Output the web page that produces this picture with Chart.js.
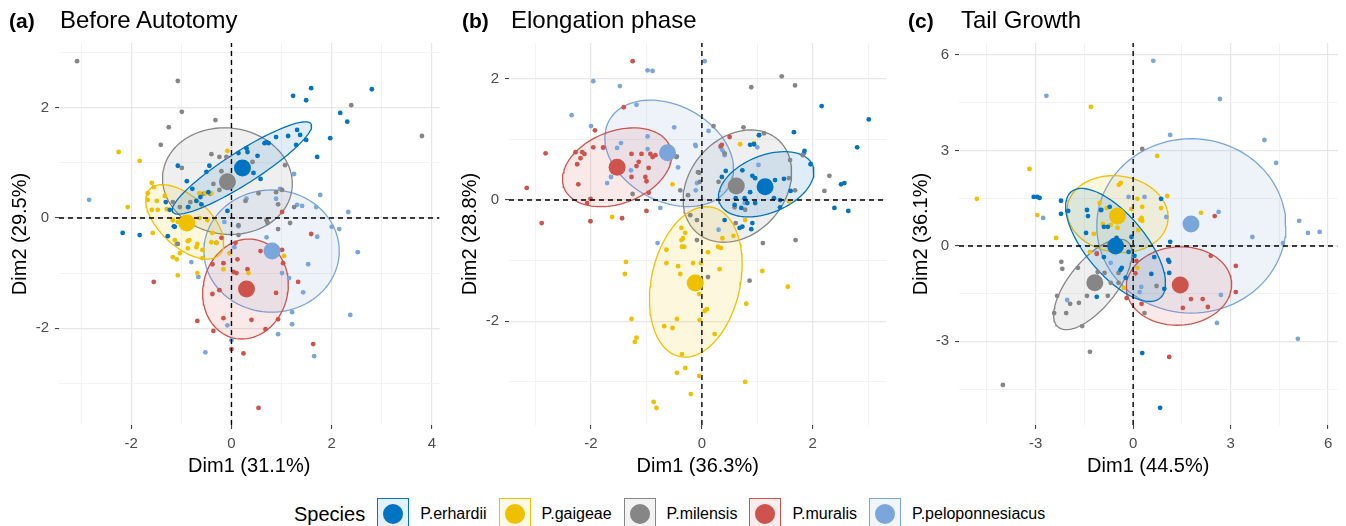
<!DOCTYPE html>
<html>
<head>
<meta charset="utf-8">
<script src="https://cdn.jsdelivr.net/npm/chart.js@4.4.1/dist/chart.umd.min.js"></script>
<style>
  html, body { margin:0; padding:0; background:#ffffff; }
  body { width:1346px; height:526px; position:relative; overflow:hidden; font-family:"Liberation Sans", Arial, sans-serif; }
  canvas { position:absolute; top:0; }
  .tag { position:absolute; top:7px; font-weight:bold; font-size:21px; line-height:28px; color:#000; white-space:nowrap; }
  .ttl { position:absolute; top:6px; font-size:24px; line-height:28px; color:#000; white-space:nowrap; }
  #legend { position:absolute; left:294px; top:498px; height:32px; display:flex; align-items:center; white-space:nowrap; color:#000; }
  #legend .lt { font-size:20px; margin-right:12px; }
  #legend .key { width:30px; height:30px; border:1px solid; position:relative; margin-right:11px; }
  #legend .key span { position:absolute; left:5px; top:5px; width:20px; height:20px; border-radius:50%; }
  #legend .lab { font-size:16px; margin-right:12px; }
</style>
</head>
<body>
<canvas id="cA" width="448" height="480" style="left:0px"></canvas>
<canvas id="cB" width="445" height="480" style="left:450px"></canvas>
<canvas id="cC" width="450" height="480" style="left:896px"></canvas>
<div id="legend"></div>
<script>
// ---------- categories / styling keys ----------
const SPECIES = ['P.erhardii', 'P.gaigeae', 'P.milensis', 'P.muralis', 'P.peloponnesiacus'];
const COLORS  = ['#0073C2', '#EFC000', '#868686', '#CD534C', '#7AA6DC'];

// ---------- panel (a) Before Autotomy ----------
const xLimitsA = [-3.44, 4.15];
const yLimitsA = [-3.76, 3.18];
const xMajorA = [-2, 0, 2, 4];
const xMinorA = [-3, -1, 1, 3];
const yMajorA = [-2, 0, 2];
const yMinorA = [-3, -1, 1, 3];
const erhardiiA = [[1.23,2.22],[1.59,2.36],[1.49,2.14],[2.80,2.34],[2.17,1.91],[2.31,1.75],[1.97,1.45],[1.71,1.11],[1.31,1.60],[1.37,1.51],[1.13,1.49],[0.89,1.47],[1.29,1.33],[1.49,1.42],[0.70,1.38],[0.30,1.27],[0.14,1.18],[0.32,1.20],[0.52,1.13],[-0.44,0.95],[-1.07,0.95],[0.44,0.82],[0.58,0.71],[-0.50,0.84],[-0.89,0.67],[-0.78,0.53],[-0.62,0.38],[-0.60,0.25],[-0.08,0.13],[-1.15,-0.15],[-0.86,0.20],[-2.17,-0.27],[-1.83,-0.31],[-1.27,-0.33],[-1.13,-0.16],[0.66,1.36],[0.74,1.36],[-0.46,0.47],[-1.31,0.29],[-1.23,0.15],[-0.70,0.31]];
const gaigeaeA = [[-2.25,1.20],[-1.83,1.04],[-0.08,1.22],[-1.59,0.64],[-1.55,0.56],[-1.67,0.45],[-1.67,0.33],[-1.49,0.31],[-0.64,0.45],[-0.52,0.45],[-0.40,0.45],[-2.07,0.20],[-1.59,0.15],[-1.29,0.16],[-1.57,-0.27],[-1.13,-0.40],[-0.87,-0.42],[-0.68,-0.47],[-1.17,-0.71],[-1.09,-0.75],[-1.03,-0.64],[-0.58,-0.73],[-0.30,-0.45],[-1.07,-1.04],[-0.68,-1.00],[-0.16,-0.93],[0.34,-1.00],[1.05,-0.69],[-0.04,-0.64],[-1.33,0.40],[-1.47,0.15],[-1.17,-0.04],[-0.84,-0.40],[-0.87,-0.55],[-0.70,-0.53],[-0.58,-0.58],[-0.40,-0.44],[-0.38,-0.27],[-0.48,-0.04],[-0.64,0.00],[-1.07,-0.07]];
const milensisA = [[-3.08,2.85],[-1.07,2.49],[-0.99,1.93],[-0.32,1.78],[-1.25,1.65],[-1.41,1.33],[2.39,2.05],[3.80,1.49],[-0.40,1.16],[-0.24,1.11],[-0.10,1.11],[-0.99,0.91],[-0.20,0.85],[0.42,1.02],[1.07,0.96],[-0.36,0.62],[-0.56,0.44],[-0.42,0.44],[-1.03,0.20],[-0.82,0.29],[0.54,0.45],[0.93,0.25],[1.25,0.20],[0.28,0.31],[0.89,0.47],[1.01,0.51],[0.70,-0.04],[0.93,-0.20],[1.17,-0.09],[0.14,-0.13],[0.72,-0.09],[0.14,-0.31],[-1.07,-0.47],[-1.17,0.29],[-0.87,0.20],[-0.24,0.51]];
const muralisA = [[1.59,-0.29],[0.58,-0.60],[1.01,-0.58],[0.08,-0.45],[0.12,-0.75],[-0.16,-0.82],[-0.38,-0.84],[0.04,-0.98],[0.10,-1.00],[0.32,-0.93],[1.03,-0.82],[1.33,-1.16],[-1.55,-1.16],[-0.38,-1.38],[-0.24,-1.31],[0.89,-1.36],[-0.68,-1.87],[-0.16,-1.82],[0.40,-1.85],[0.93,-1.84],[0.68,-2.02],[-0.36,-2.05],[0.00,-2.38],[0.24,-2.46],[1.63,-2.29],[0.54,-3.45],[1.01,0.11],[-0.30,-0.45],[-0.20,-0.36]];
const peloponnesiacusA = [[-2.84,0.33],[1.25,0.80],[1.77,0.42],[2.33,0.11],[0.97,0.53],[0.30,0.35],[1.31,0.24],[1.41,0.22],[1.69,0.20],[0.89,0.35],[2.00,-0.16],[2.15,-0.20],[1.71,-0.34],[0.70,-0.35],[2.52,-0.62],[1.53,-0.84],[1.01,-1.00],[1.15,-1.09],[1.43,-1.35],[1.21,-1.71],[2.37,-1.76],[1.21,-1.93],[0.93,-2.11],[-0.08,-1.95],[0.00,-2.22],[-0.52,-2.44],[1.65,-2.51],[-0.80,-0.80],[-0.66,-1.07],[0.14,-0.15],[0.06,-0.53],[-0.14,-0.07],[-1.09,-0.47]];
const centroidsA = [[0.22,0.91],[-0.89,-0.09],[-0.08,0.66],[0.30,-1.29],[0.81,-0.60]];
// ellipse: [centre x, centre y, half-axis 1 (x,y), half-axis 2 (x,y)] in data units
const ellipsesA = [[0.21,0.91,1.38,0.80,0.17,-0.25],[-0.93,-0.07,0.70,-0.59,-0.34,-0.33],[-0.08,0.67,1.29,-0.13,-0.11,-0.96],[0.28,-1.29,0.24,0.89,0.82,-0.18],[0.80,-0.60,1.35,0,0,1.11]];

// ---------- panel (b) Elongation phase ----------
const xLimitsB = [-3.48, 3.33];
const yLimitsB = [-3.71, 2.59];
const xMajorB = [-2, 0, 2];
const xMinorB = [-3, -1, 1, 3];
const yMajorB = [-2, 0, 2];
const yMinorB = [-3, -1, 1];
const erhardiiB = [[2.16,1.55],[3.01,1.33],[2.80,0.87],[1.66,1.12],[1.85,0.81],[1.96,0.59],[2.39,-0.13],[2.64,-0.18],[2.51,0.26],[2.57,0.28],[0.87,0.91],[0.94,0.92],[1.03,1.07],[0.43,0.48],[0.36,0.38],[0.73,0.49],[0.91,0.40],[0.96,0.36],[1.32,0.33],[1.48,0.35],[0.64,0.16],[0.87,0.13],[1.14,0.12],[0.61,0.03],[0.77,0.03],[0.96,-0.05],[1.30,0.03],[1.41,0.00],[0.41,-0.33],[0.68,-0.46],[0.91,-0.38],[0.89,-0.48],[0.82,-0.05],[0.59,-0.08],[0.71,-0.13],[1.41,-0.12],[0.73,-0.44],[1.20,0.30],[1.05,0.25],[1.60,0.15]];
const gaigeaeB = [[0.69,0.92],[0.94,0.94],[-0.53,0.26],[-1.62,-0.28],[1.57,-0.02],[0.78,-0.33],[-0.37,-0.46],[-0.30,-0.54],[-0.34,-0.63],[-0.37,-0.66],[-0.32,-0.77],[-0.64,-0.82],[0.29,-0.77],[0.34,-0.79],[0.11,-0.86],[0.37,-0.63],[0.57,-0.59],[-0.36,-0.77],[-1.37,-1.02],[-1.39,-1.22],[-0.64,-1.04],[-0.43,-1.09],[-0.16,-1.04],[-0.02,-1.04],[0.32,-1.14],[-0.39,-1.22],[-0.05,-1.55],[0.05,-1.83],[0.09,-1.80],[1.09,-1.17],[1.55,-1.43],[0.80,-1.71],[-1.27,-1.96],[-0.45,-1.96],[-0.68,-2.08],[-0.53,-2.11],[-0.04,-1.98],[-1.18,-2.27],[-1.21,-2.34],[0.23,-2.21],[-0.36,-2.54],[-0.30,-2.77],[-0.45,-2.85],[-0.05,-2.90],[0.78,-3.00],[-0.20,-3.20],[-0.87,-3.33],[-0.82,-3.43]];
const milensisB = [[1.44,2.04],[1.68,1.89],[0.89,1.86],[0.75,1.20],[0.21,1.22],[-0.05,0.45],[-0.04,0.30],[-0.46,0.71],[-0.39,0.16],[-1.25,0.10],[2.21,0.15],[2.30,0.40],[1.68,0.16],[1.82,0.74],[1.12,1.10],[1.03,1.07],[0.41,0.77],[-0.07,0.46],[0.30,0.30],[-0.25,0.08],[1.84,0.77],[1.59,0.66],[1.57,0.36],[0.59,-0.12],[0.78,-0.16],[1.10,-0.71],[1.69,-0.66],[-0.09,-0.66],[-0.09,-0.33],[-0.21,-0.25],[0.61,-0.38],[0.11,-1.27],[0.86,-1.33]];
const muralisB = [[-1.25,2.29],[-1.41,1.53],[-1.93,1.15],[-1.96,0.87],[-2.82,0.77],[-2.28,0.79],[-2.16,0.79],[-2.12,0.76],[-2.19,0.69],[-2.25,0.59],[-1.78,0.87],[-1.27,0.76],[-1.09,0.76],[-0.93,0.76],[-0.89,0.71],[-0.84,0.74],[-1.14,0.63],[-1.18,0.56],[-0.96,0.53],[-1.02,0.38],[-1.00,0.31],[-1.27,0.38],[-2.23,0.26],[-2.01,0.02],[-2.07,-0.05],[-3.16,0.20],[-0.96,0.12],[-1.00,-0.18],[-1.44,-0.30],[-2.01,-0.35],[-2.89,-0.38],[0.34,0.89],[0.50,1.04],[0.36,0.91]];
const peloponnesiacusB = [[-0.98,2.14],[-0.89,2.13],[0.05,2.29],[-1.96,1.96],[-1.48,1.88],[-1.18,1.57],[-2.35,1.40],[-2.00,1.22],[-0.98,1.05],[-0.50,1.20],[-1.46,0.94],[-1.78,0.86],[-1.53,0.86],[-0.98,0.84],[-0.12,0.91],[-0.11,0.89],[0.12,1.14],[0.37,0.82],[0.41,0.74],[-1.71,0.28],[-1.64,0.38],[-1.28,0.49],[-0.43,0.54],[-0.09,0.28],[-0.11,0.16],[-0.75,-0.13],[-0.45,0.72],[-0.80,-0.71],[0.30,-0.49],[0.34,0.87],[1.00,0.87],[1.02,0.58],[0.77,-0.05]];
const centroidsB = [[1.14,0.22],[-0.12,-1.37],[0.62,0.23],[-1.53,0.54],[-0.62,0.78]];
const ellipsesB = [[1.16,0.26,0.84,0.31,0.19,-0.44],[-0.11,-1.35,0.30,1.23,0.78,-0.165],[0.64,0.23,0.74,0.76,0.64,-0.53],[-1.53,0.54,0.96,0.33,0.22,-0.56],[-0.59,0.77,1.09,-0.53,-0.40,-0.70]];

// ---------- panel (c) Tail Growth ----------
const xLimitsC = [-5.36, 6.29];
const yLimitsC = [-5.63, 6.38];
const xMajorC = [-3, 0, 3, 6];
const xMinorC = [-4.5, -1.5, 1.5, 4.5];
const yMajorC = [-3, 0, 3, 6];
const yMinorC = [-4.5, -1.5, 1.5, 4.5];
const erhardiiC = [[-3.06,1.54],[-2.95,1.54],[-2.88,1.51],[-2.22,1.42],[-2.22,1.01],[-2.00,1.10],[-1.42,1.13],[-1.39,0.94],[-0.99,1.13],[-0.72,1.23],[0.86,1.48],[-1.45,0.41],[1.14,0.13],[1.11,-0.50],[1.11,-0.85],[0.56,-0.88],[0.96,-1.35],[0.28,-3.37],[0.83,-5.09],[-1.12,-1.60],[0.65,-0.35],[-0.90,0.60],[-0.14,-0.19],[1.08,-0.44],[-0.39,-0.75],[-0.90,-0.35],[-0.78,0.60],[-0.51,0.25],[-0.05,0.28],[0.04,-0.31],[-0.35,-0.69],[-0.23,-1.00]];
const gaigeaeC = [[-1.30,4.37],[-3.19,2.42],[-4.81,1.48],[0.74,2.83],[-0.44,1.92],[-0.38,1.98],[0.13,1.48],[1.05,1.57],[0.86,1.19],[0.28,1.23],[2.09,1.04],[-2.95,0.97],[-0.05,1.16],[0.26,0.88],[0.28,0.79],[-0.93,0.69],[-2.37,0.25],[-1.33,-0.19],[-1.03,1.35],[-0.81,1.19],[0.22,0.82],[-1.21,0.38],[-0.69,0.66],[-0.48,0.57],[0.16,0.50],[0.13,-0.69],[-0.29,-1.32]];
const milensisC = [[0.28,3.05],[-2.21,-0.50],[-2.18,-0.72],[-1.70,-0.69],[-1.09,-0.82],[-0.88,-0.85],[-2.34,-1.57],[-1.94,-1.82],[-2.43,-2.11],[-2.06,-2.11],[-1.42,-1.57],[-1.57,-2.52],[-1.33,-3.33],[-4.01,-4.37],[-0.78,-1.57],[0.35,-2.11],[-0.69,-1.16],[-0.45,-1.16],[-1.67,-1.79],[0.72,-1.26],[-0.45,-0.85]];
const muralisC = [[2.51,0.94],[2.39,-0.31],[3.16,-0.63],[3.16,-1.45],[1.78,-1.67],[2.14,-1.67],[2.30,-1.92],[1.53,-1.95],[0.26,-1.82],[1.11,-3.49],[0.10,-0.47],[0.07,-0.86],[-0.20,-1.64],[-1.12,-0.25]];
const peloponnesiacusC = [[0.62,5.82],[-2.67,4.72],[2.67,4.62],[1.14,3.49],[4.04,3.33],[4.40,2.61],[0.35,1.54],[2.63,1.07],[5.11,0.79],[-2.77,0.88],[1.02,0.91],[5.38,0.41],[5.74,0.44],[3.67,0.28],[4.61,0.09],[5.07,-2.92],[2.58,-2.42],[2.70,-1.54],[-2.03,-1.70],[0.20,-1.45],[-0.97,1.13],[-0.14,1.54],[-1.12,-0.22],[-0.69,-0.53],[0.25,-1.29]];
const centroidsC = [[-0.54,0.00],[-0.48,0.94],[-1.18,-1.16],[1.45,-1.23],[1.78,0.69]];
const ellipsesC = [[-0.54,0.03,1.37,-1.67,-0.70,-0.61],[-0.48,1.00,1.55,-0.22,-0.15,-1.19],[-1.24,-1.21,1.07,1.34,0.56,-0.48],[1.41,-1.26,1.62,0.09,0.06,-1.23],[1.79,0.63,2.91,0,0,2.74]];

// ---------- text ----------
const tagsText = ['(a)', '(b)', '(c)'];
const titlesText = ['Before Autotomy', 'Elongation phase', 'Tail Growth'];
const xTitles = ['Dim1 (31.1%)', 'Dim1 (36.3%)', 'Dim1 (44.5%)'];
const yTitles = ['Dim2 (29.5%)', 'Dim2 (28.8%)', 'Dim2 (36.1%)'];
const legendTitle = 'Species';

// ---------- layout (not data) ----------
const FONT = "'Liberation Sans', Arial, sans-serif";
Chart.defaults.font.family = FONT;
const layouts = [
  {canvas:'cA', left:0,   tagX:9,   titleX:60,  yAxisW:59, padR:7, yTitlePad:8},
  {canvas:'cB', left:450, tagX:462, titleX:511, yAxisW:59, padR:4, yTitlePad:8},
  {canvas:'cC', left:896, tagX:908, titleX:961, yAxisW:63, padR:5, yTitlePad:13}
];
const panelData = [
  {xLim:xLimitsA, yLim:yLimitsA, xMaj:xMajorA, xMin:xMinorA, yMaj:yMajorA, yMin:yMinorA,
   pts:[erhardiiA,gaigeaeA,milensisA,muralisA,peloponnesiacusA], cen:centroidsA, ell:ellipsesA},
  {xLim:xLimitsB, yLim:yLimitsB, xMaj:xMajorB, xMin:xMinorB, yMaj:yMajorB, yMin:yMinorB,
   pts:[erhardiiB,gaigeaeB,milensisB,muralisB,peloponnesiacusB], cen:centroidsB, ell:ellipsesB},
  {xLim:xLimitsC, yLim:yLimitsC, xMaj:xMajorC, xMin:xMinorC, yMaj:yMajorC, yMin:yMinorC,
   pts:[erhardiiC,gaigeaeC,milensisC,muralisC,peloponnesiacusC], cen:centroidsC, ell:ellipsesC}
];

function rgba(hex, a) {
  const n = parseInt(hex.slice(1), 16);
  return 'rgba(' + ((n >> 16) & 255) + ',' + ((n >> 8) & 255) + ',' + (n & 255) + ',' + a + ')';
}
function ellipseOutline(e) {
  const out = [];
  const N = 96;
  for (let k = 0; k <= N; k++) {
    const t = 2 * Math.PI * k / N;
    out.push({x: e[0] + e[2] * Math.cos(t) + e[4] * Math.sin(t),
              y: e[1] + e[3] * Math.cos(t) + e[5] * Math.sin(t)});
  }
  return out;
}
const toXY = arr => arr.map(p => ({x: p[0], y: p[1]}));
const isIn = (v, list) => list.some(m => Math.abs(m - v) < 1e-9);

function axis(lim, major, minor, title, isX, L) {
  const all = major.concat(minor).sort((a, b) => a - b);
  const ax = {
    type: 'linear', min: lim[0], max: lim[1],
    afterBuildTicks: s => { s.ticks = all.map(v => ({value: v})); },
    ticks: {
      autoSkip: false, maxRotation: 0, minRotation: 0, padding: 6,
      color: '#4D4D4D', font: {size: 15, family: FONT},
      callback: v => isIn(v, major) ? String(v) : ''
    },
    grid: {
      drawTicks: true, tickLength: 4, tickWidth: 1,
      color: c => (c.tick && isIn(c.tick.value, major)) ? '#E6E6E6' : '#F3F3F3',
      lineWidth: c => (c.tick && isIn(c.tick.value, major)) ? 1.2 : 1,
      tickColor: c => (c.tick && isIn(c.tick.value, major)) ? '#333333' : 'rgba(0,0,0,0)'
    },
    border: {display: false},
    title: {display: true, text: title, color: '#000', font: {size: 20, family: FONT},
            padding: isX ? {top: 0, bottom: 2} : {top: L.yTitlePad, bottom: 0}}
  };
  if (isX) ax.afterFit = s => { s.height = 55; };
  else ax.afterFit = s => { s.width = L.yAxisW; };
  return ax;
}

panelData.forEach((P, pi) => {
  const L = layouts[pi];
  const ds = [];
  // confidence ellipses
  P.ell.forEach((e, i) => ds.push({
    data: ellipseOutline(e), showLine: true, fill: 'shape', tension: 0,
    borderColor: COLORS[i], borderWidth: 1.3, backgroundColor: rgba(COLORS[i], 0.13),
    pointRadius: 0, pointHoverRadius: 0, order: 5
  }));
  // individuals
  P.pts.forEach((arr, i) => ds.push({
    data: toXY(arr), showLine: false, backgroundColor: COLORS[i], borderWidth: 0,
    pointRadius: 2.4, pointHoverRadius: 2.4, order: 4
  }));
  // reference lines at 0
  ds.push({data: [{x: P.xLim[0], y: 0}, {x: P.xLim[1], y: 0}], showLine: true, fill: false,
           borderColor: '#000', borderWidth: 1.4, borderDash: [5, 4], pointRadius: 0, order: 3});
  ds.push({data: [{x: 0, y: P.yLim[0]}, {x: 0, y: P.yLim[1]}], showLine: true, fill: false,
           borderColor: '#000', borderWidth: 1.4, borderDash: [5, 4], pointRadius: 0, order: 3});
  // group means
  P.cen.forEach((c, i) => ds.push({
    data: [{x: c[0], y: c[1]}], showLine: false, backgroundColor: COLORS[i], borderWidth: 0,
    pointRadius: 8.5, pointHoverRadius: 8.5, order: 2
  }));

  new Chart(document.getElementById(L.canvas), {
    type: 'scatter',
    data: {datasets: ds},
    options: {
      responsive: false, animation: false, devicePixelRatio: 1, events: [],
      layout: {padding: {left: 0, right: L.padR, top: 43, bottom: 0}},
      plugins: {legend: {display: false}, tooltip: {enabled: false}, title: {display: false}},
      scales: {
        x: axis(P.xLim, P.xMaj, P.xMin, xTitles[pi], true, L),
        y: axis(P.yLim, P.yMaj, P.yMin, yTitles[pi], false, L)
      }
    }
  });

  const tag = document.createElement('div');
  tag.className = 'tag'; tag.style.left = L.tagX + 'px'; tag.textContent = tagsText[pi];
  document.body.appendChild(tag);
  const ttl = document.createElement('div');
  ttl.className = 'ttl'; ttl.style.left = L.titleX + 'px'; ttl.textContent = titlesText[pi];
  document.body.appendChild(ttl);
});

// legend
const lg = document.getElementById('legend');
const lt = document.createElement('span'); lt.className = 'lt'; lt.textContent = legendTitle; lg.appendChild(lt);
SPECIES.forEach((s, i) => {
  const k = document.createElement('span'); k.className = 'key';
  k.style.borderColor = COLORS[i]; k.style.background = rgba(COLORS[i], 0.1);
  const d = document.createElement('span'); d.style.background = COLORS[i]; k.appendChild(d);
  lg.appendChild(k);
  const t = document.createElement('span'); t.className = 'lab'; t.textContent = s; lg.appendChild(t);
});
</script>
</body>
</html>
